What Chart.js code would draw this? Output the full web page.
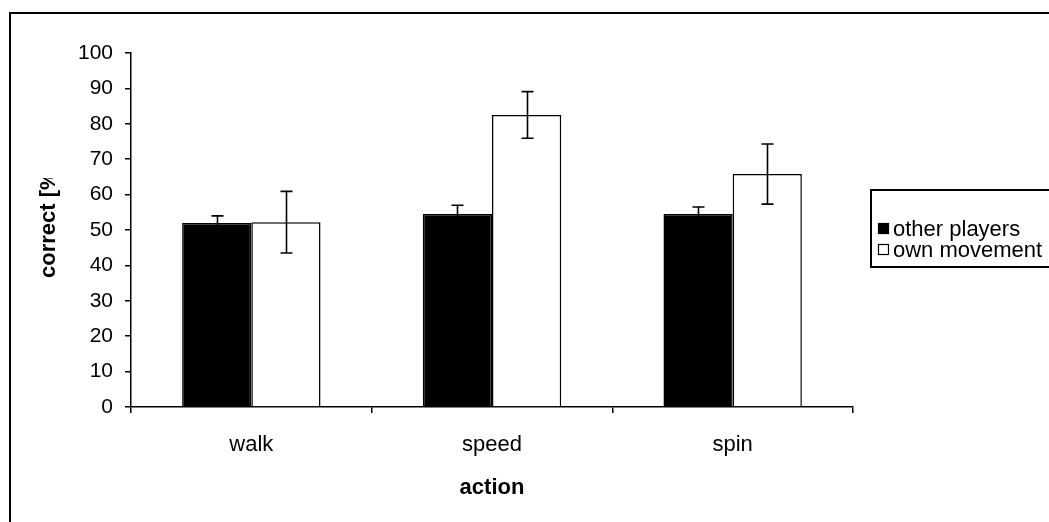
<!DOCTYPE html>
<html>
<head>
<meta charset="utf-8">
<script src="https://cdn.jsdelivr.net/npm/chart.js@4/dist/chart.umd.min.js"></script>
<style>
html,body{margin:0;padding:0;background:#fff;}
canvas{display:block;}
</style>
</head>
<body>
<canvas id="c" width="1049" height="522"></canvas>
<script>
const categories = ['walk', 'speed', 'spin'];
const seriesNames = ['other players', 'own movement'];
const otherPlayers = [52, 54.5, 54.5];
const otherErr = [2, 2.5, 2];
const ownMovement = [52.2, 82.5, 65.8];
const ownErr = [8.7, 6.6, 8.5];
const yTicks = [0,10,20,30,40,50,60,70,80,90,100];
const yTitle = 'correct [%]';
const xTitle = 'action';

const FONT = '"Liberation Sans", Arial, sans-serif';
const FS = 22;
const FSY = 21;

const errs = [otherErr, ownErr];

const plugin = {
  id: 'custom',
  beforeDraw(chart) {
    const ctx = chart.ctx;
    ctx.save();
    ctx.fillStyle = '#fff';
    ctx.fillRect(0, 0, chart.width, chart.height);
    ctx.restore();
  },
  afterDatasetsDraw(chart) {
    const ctx = chart.ctx;
    const y = chart.scales.y;
    ctx.save();
    ctx.strokeStyle = '#000';
    ctx.lineWidth = 1.6;
    chart.data.datasets.forEach((ds, i) => {
      const meta = chart.getDatasetMeta(i);
      meta.data.forEach((bar, j) => {
        const v = ds.data[j], e = errs[i][j];
        const x = Math.round(bar.x) + 0.5;
        const yt = y.getPixelForValue(v + e);
        const yb = y.getPixelForValue(v - e);
        ctx.beginPath();
        ctx.moveTo(x, yt); ctx.lineTo(x, yb);
        ctx.moveTo(x - 6, yt); ctx.lineTo(x + 6, yt);
        ctx.moveTo(x - 6, yb); ctx.lineTo(x + 6, yb);
        ctx.stroke();
      });
    });
    ctx.restore();
  },
  afterDraw(chart) {
    const ctx = chart.ctx;
    const ca = chart.chartArea;
    ctx.save();
    // outer border
    ctx.strokeStyle = '#000';
    ctx.lineWidth = 2;
    ctx.strokeRect(10, 13, 1100, 600);
    // y title (clipped at top like the original)
    ctx.save();
    ctx.beginPath();
    ctx.rect(0, 178, 130, 400);
    ctx.clip();
    ctx.translate(49, 278);
    ctx.rotate(-Math.PI / 2);
    ctx.fillStyle = '#000';
    ctx.font = 'bold ' + FS + 'px ' + FONT;
    ctx.textAlign = 'left';
    ctx.textBaseline = 'middle';
    ctx.fillText(yTitle, 0, 0);
    ctx.restore();
    // x title
    ctx.fillStyle = '#000';
    ctx.font = 'bold ' + FS + 'px ' + FONT;
    ctx.textAlign = 'center';
    ctx.textBaseline = 'middle';
    ctx.fillText(xTitle, (ca.left + ca.right) / 2, 488);
    // legend
    ctx.lineWidth = 2;
    ctx.strokeRect(871, 190, 300, 77);
    ctx.font = FS + 'px ' + FONT;
    ctx.textAlign = 'left';
    const ys = [229, 250];
    chart.data.datasets.forEach((ds, i) => {
      ctx.fillStyle = ds.backgroundColor;
      ctx.fillRect(878.5, ys[i] - 5.5, 10, 10);
      ctx.lineWidth = 1.2;
      ctx.strokeStyle = '#000';
      ctx.strokeRect(878.5, ys[i] - 5.5, 10, 10);
      ctx.fillStyle = '#000';
      ctx.fillText(ds.label, 893, ys[i] + 1);
    });
    ctx.restore();
  }
};

new Chart(document.getElementById('c'), {
  type: 'bar',
  data: {
    labels: categories,
    datasets: [
      { label: seriesNames[0], data: otherPlayers, backgroundColor: '#000', borderColor: '#000', borderWidth: 1.5 },
      { label: seriesNames[1], data: ownMovement, backgroundColor: '#fff', borderColor: '#000', borderWidth: 1.5 }
    ]
  },
  options: {
    responsive: false,
    animation: false,
    devicePixelRatio: 1,
    categoryPercentage: 0.575,
    barPercentage: 1,
    layout: { padding: { top: 53, right: 196, left: 0, bottom: 0 } },
    plugins: { legend: { display: false }, tooltip: { enabled: false } },
    scales: {
      x: {
        grid: { display: true, drawOnChartArea: false, offset: true, tickLength: 6, color: '#000', tickColor: '#000', lineWidth: 1.5 },
        border: { display: true, color: '#000', width: 1.5 },
        ticks: { color: '#000', font: { family: FONT, size: FS }, padding: 19, maxRotation: 0 },
        afterFit(s) { s.height = 115; }
      },
      y: {
        min: 0, max: 100,
        afterBuildTicks(s) { s.ticks = yTicks.map(v => ({ value: v })); },
        grid: { display: true, drawOnChartArea: false, tickLength: 6, color: '#000', tickColor: '#000', lineWidth: 1.5 },
        border: { display: true, color: '#000', width: 1.5 },
        ticks: { color: '#000', font: { family: FONT, size: FSY }, padding: 12 },
        afterFit(s) { s.width = 131; }
      }
    }
  },
  plugins: [plugin]
});
</script>
</body>
</html>
